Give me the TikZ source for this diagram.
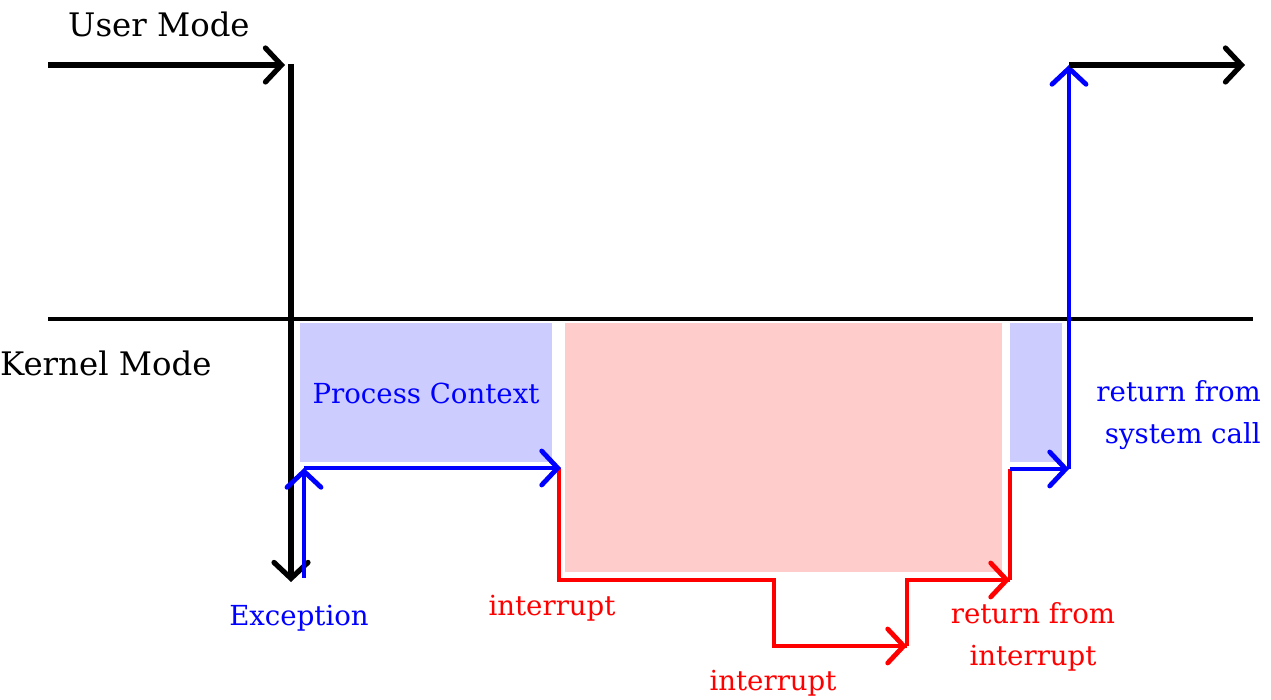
\documentclass[tikz,border=0pt]{standalone}
\usepackage{fontspec}
\setmainfont{DejaVu Serif}
\usetikzlibrary{arrows.meta}
\definecolor{pcblue}{HTML}{CCCCFF}
\definecolor{irpink}{HTML}{FFCCCC}
\definecolor{pblue}{HTML}{0000FF}
\definecolor{pred}{HTML}{FF0000}
\begin{document}
\begin{tikzpicture}[x=1pt,y=-1pt,
  barb/.style={-{Straight Barb[length=16pt,width=34pt,line cap=round]}},
  flow/.style={line width=4.8pt},
  kflow/.style={line width=5.2pt},
  modelabel/.style={anchor=base west,inner sep=0pt,font=\fontsize{32.4}{40}\selectfont},
  lbl/.style={inner sep=0pt,font=\fontsize{27.6}{42}\selectfont}]
\useasboundingbox (0,0) rectangle (1271,700);
% regions
\fill[pcblue] (300,323) rectangle (552,462);
\fill[irpink] (565,323) rectangle (1002,572);
\fill[pcblue] (1010,323) rectangle (1062,462);
% coordinates
\coordinate (ustart) at (48,65);
\coordinate (uend) at (285,65);
\coordinate (vtop) at (291,64);
\coordinate (vbot) at (291,582);
\coordinate (lstart) at (48,319);
\coordinate (lend) at (1253,319);
\coordinate (eb) at (304,578);
\coordinate (et) at (304,468);
\coordinate (pc) at (561,468);
\coordinate (r1) at (559,468);
\coordinate (r2) at (559,580);
\coordinate (r3) at (774,580);
\coordinate (r4) at (774,646);
\coordinate (r5) at (907,646);
\coordinate (r6) at (907,580);
\coordinate (r7) at (1010,580);
\coordinate (r8) at (1010,469);
\coordinate (b1) at (1069,469);
\coordinate (b2) at (1069,65);
\coordinate (k1) at (1245,65);
% lines
\draw[line width=3.4pt] (lstart) -- (lend);
\draw[kflow,barb] (ustart) -- (uend);
\draw[kflow,barb] (vtop) -- (vbot);
\draw[flow,pred] (r1) -- (r2) -- (r3) -- (r4) -- (r5);
\draw[flow,pred,barb] (r4) -- (r5);
\draw[flow,pred] (r5) -- (r6) -- (r7);
\draw[flow,pred,barb] (r6) -- (r7);
\draw[flow,pred] (r7) -- (r8);
\draw[flow,pblue,barb] (eb) -- (et);
\draw[flow,pblue,barb] (et) -- (pc);
\draw[flow,pblue,barb] (r8) -- (b1);
\draw[flow,pblue,barb] (b1) -- (b2);
\draw[kflow,barb] (b2) -- (k1);
% labels
\node[modelabel] (user) at (68,37) {User Mode};
\node[modelabel] (kernel) at (0,375) {Kernel Mode};
\node[lbl,anchor=base,text=pblue] (proc) at (426,403) {Process Context};
\node[lbl,anchor=base,text=pblue] (exc) at (299,625) {Exception};
\node[lbl,anchor=base,text=pred] (int1) at (552,615) {interrupt};
\node[lbl,anchor=base,text=pred] (int2) at (773,690) {interrupt};
\node[lbl,anchor=base,text=pred,align=center] (ret1) at (1033,665) {return from\\interrupt};
\node[lbl,anchor=base east,text=pblue,align=right] (ret2) at (1261,443) {return from\\system call};
\end{tikzpicture}
\end{document}
